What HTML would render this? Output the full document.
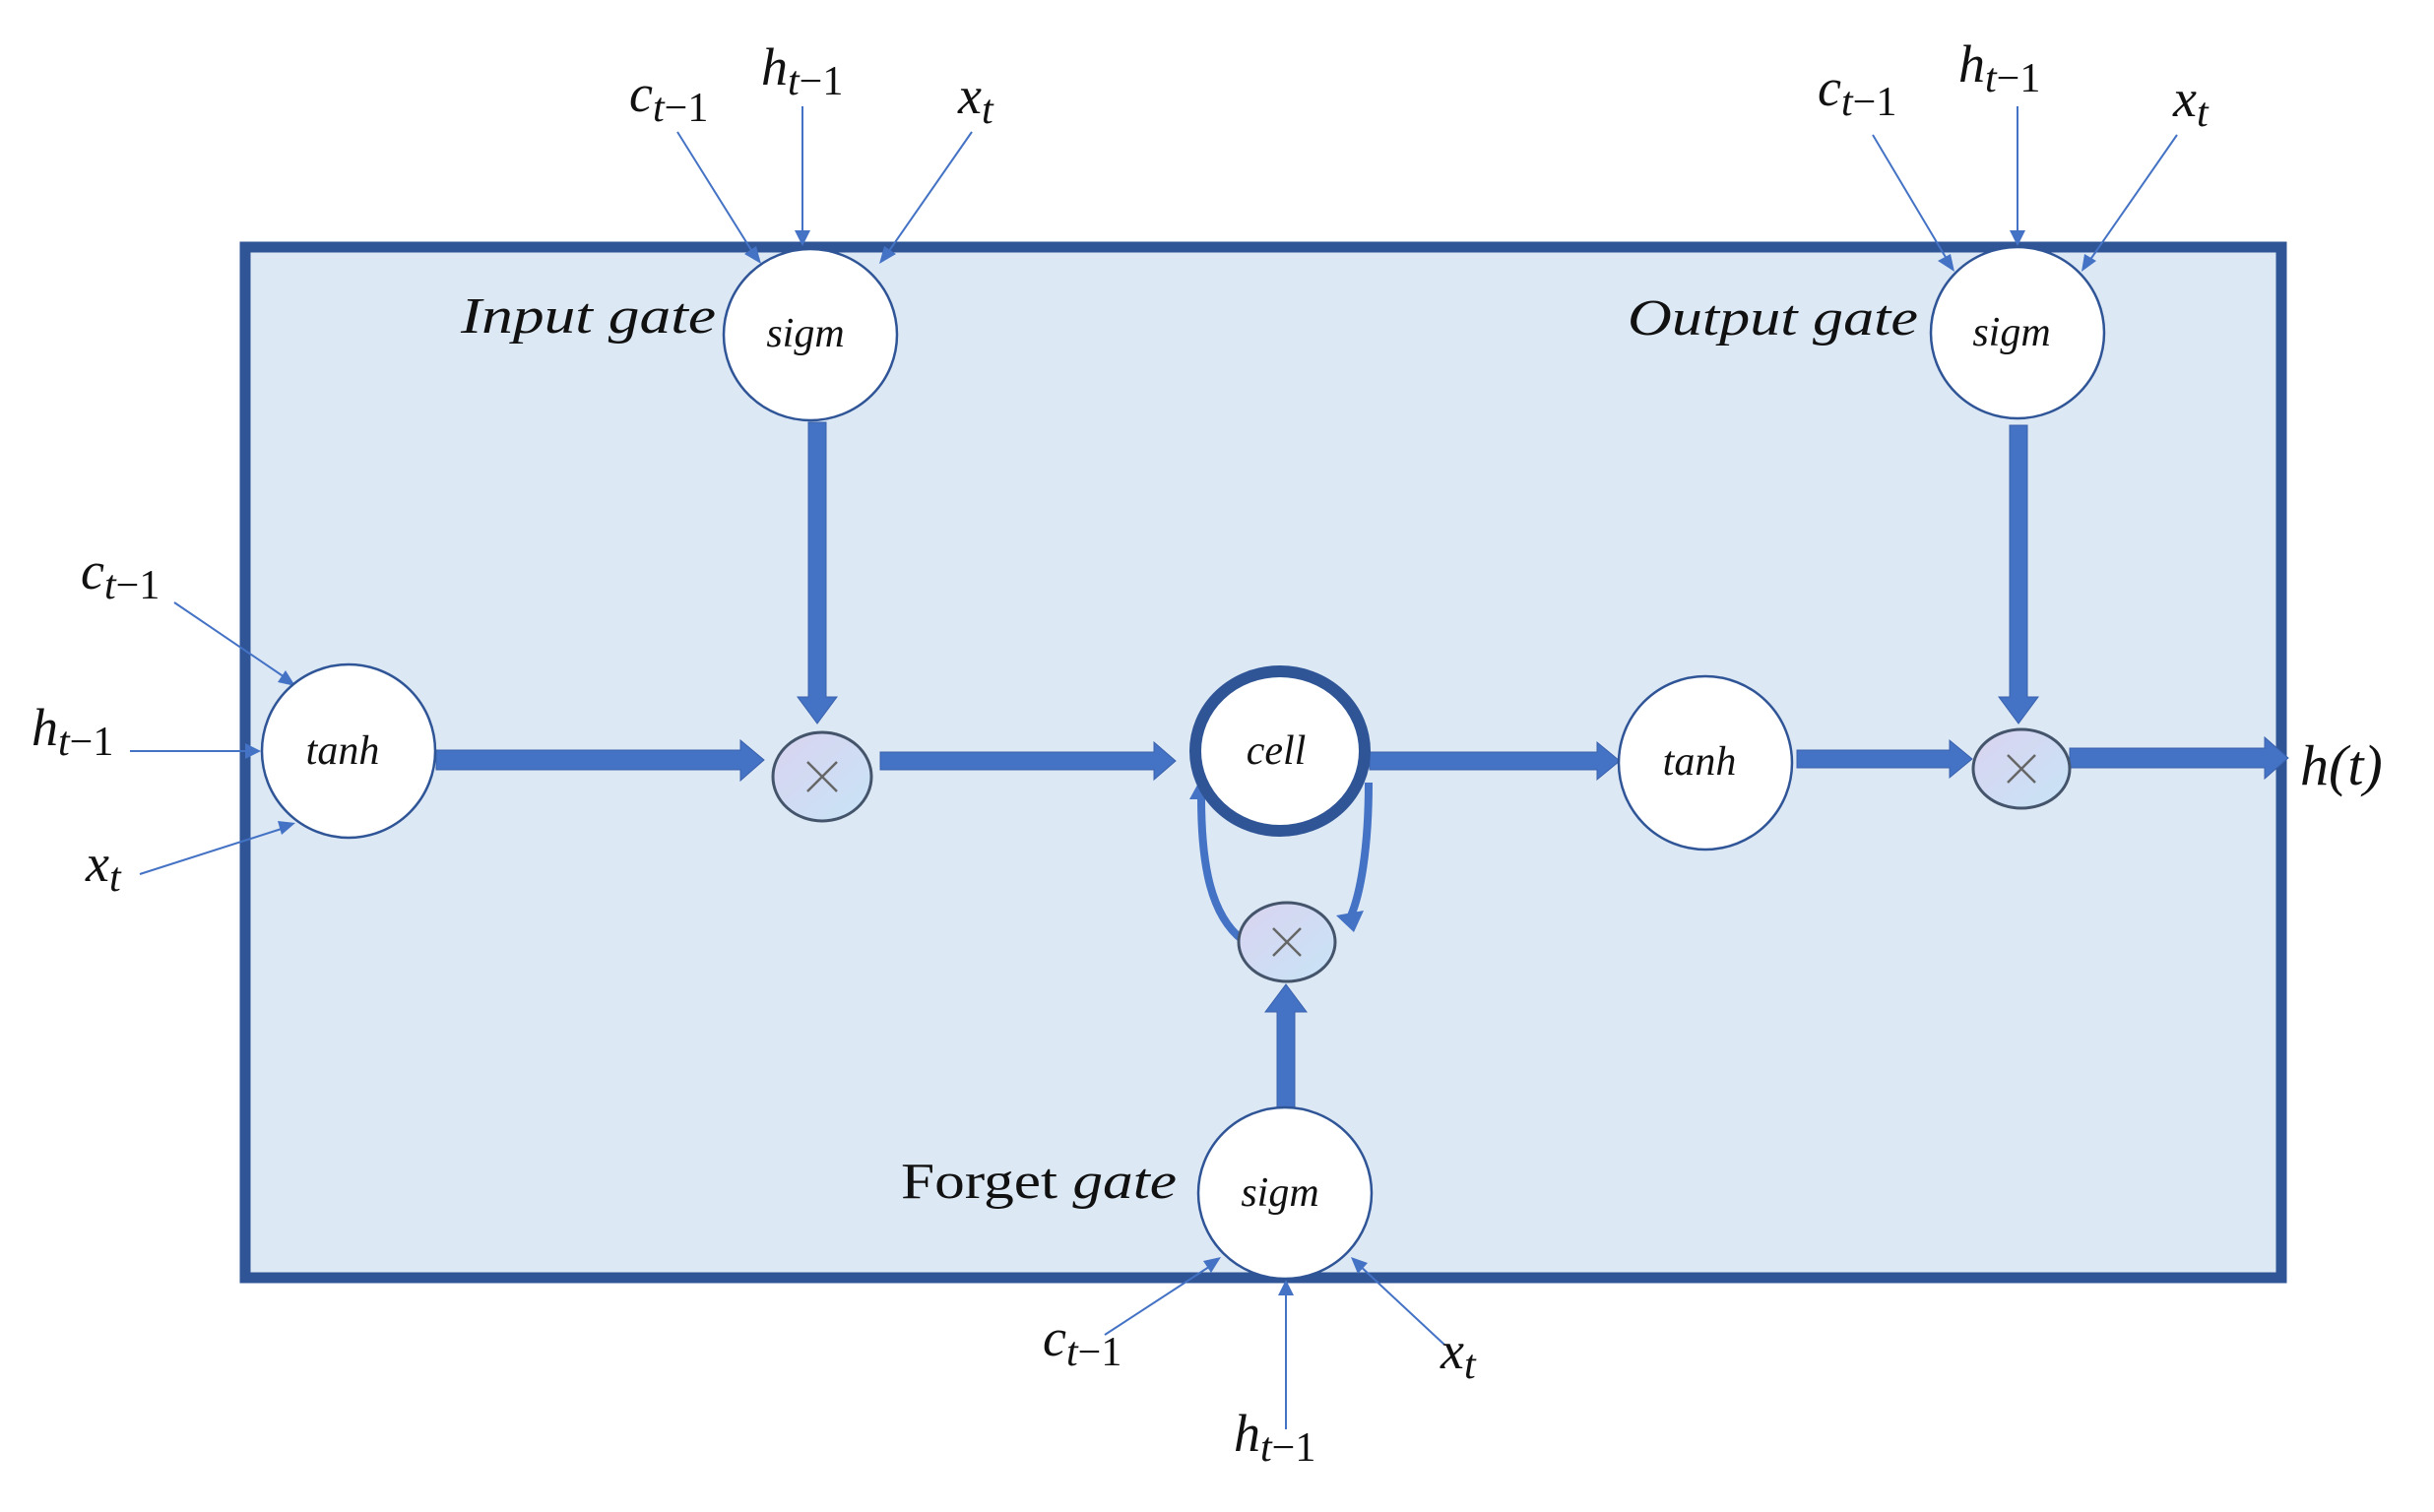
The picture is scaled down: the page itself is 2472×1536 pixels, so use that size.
<!DOCTYPE html>
<html><head><meta charset="utf-8"><style>
html,body{margin:0;padding:0;background:#fff;}
svg{display:block;}
text{font-family:"Liberation Serif",serif;fill:#111;}
.it{font-style:italic;}
</style></head><body>
<svg width="2472" height="1536" viewBox="0 0 2472 1536" xmlns="http://www.w3.org/2000/svg">
<defs>
<linearGradient id="mg" x1="0" y1="0" x2="1" y2="1">
<stop offset="0" stop-color="#d9d3f0"/><stop offset="1" stop-color="#c8e4f6"/>
</linearGradient>
</defs>
<rect x="249" y="251" width="2068" height="1047" fill="#dde8f5" stroke="#2f5597" stroke-width="11"/>

<g fill="#4472c4" stroke="#3a62ad" stroke-width="1">
<polygon points="443,762 752,762 752,752 776,772 752,793 752,782 443,782"/>
<polygon points="894,764 1172,764 1172,754 1194,773 1172,792 1172,782 894,782"/>
<polygon points="1391,764 1622,764 1622,754 1645,773 1622,792 1622,782 1391,782"/>
<polygon points="1825,762 1980,762 1980,752 2003,771 1980,790 1980,780 1825,780"/>
<polygon points="2102,760 2300,760 2300,749 2324,770 2300,791 2300,780 2102,780"/>
<polygon points="821,429 839,429 839,708 850,708 830,735 810,708 821,708"/>
<polygon points="2041,432 2059,432 2059,708 2070,708 2050,735 2030,708 2041,708"/>
<polygon points="1297,1126 1315,1126 1315,1028 1327,1028 1306,1000 1285,1028 1297,1028"/>
</g>
<path d="M1262,955 C1230,930 1220,880 1220,810" fill="none" stroke="#4472c4" stroke-width="8"/>
<polygon points="1208,812 1220,790 1232,812" fill="#4472c4"/>
<path d="M1390,795 C1390,860 1382,910 1370,935" fill="none" stroke="#4472c4" stroke-width="8"/>
<polygon points="1357,930 1375,947 1385,925" fill="#4472c4"/>

<g stroke="#4472c4" stroke-width="2" fill="none">
<line x1="688" y1="134" x2="768" y2="262"/>
<line x1="815" y1="108" x2="815" y2="240"/>
<line x1="987" y1="134" x2="898" y2="262"/>
<line x1="1902" y1="137" x2="1980" y2="268"/>
<line x1="2049" y1="108" x2="2049" y2="240"/>
<line x1="2211" y1="137" x2="2120" y2="268"/>
<line x1="177" y1="612" x2="292" y2="690"/>
<line x1="132" y1="763" x2="255" y2="763"/>
<line x1="142" y1="888" x2="292" y2="840"/>
<line x1="1122" y1="1356" x2="1234" y2="1283"/>
<line x1="1306" y1="1452" x2="1306" y2="1310"/>
<line x1="1467" y1="1366" x2="1378" y2="1283"/>
</g>
<g fill="#4472c4">
<polygon points="773,268 756,258 768,250"/>
<polygon points="815,250 807,234 823,234"/>
<polygon points="893,268 898,250 910,258"/>
<polygon points="1985,276 1968,265 1981,258"/>
<polygon points="2049,250 2041,234 2057,234"/>
<polygon points="2114,276 2117,258 2129,265"/>
<polygon points="300,697 282,693 290,681"/>
<polygon points="265,763 249,755 249,771"/>
<polygon points="300,836 286,848 282,834"/>
<polygon points="1240,1277 1230,1293 1222,1281"/>
<polygon points="1306,1300 1298,1316 1314,1316"/>
<polygon points="1372,1277 1389,1283 1379,1294"/>
</g>

<g stroke="#2f5597" stroke-width="2.5" fill="#fff">
<ellipse cx="823" cy="340" rx="88" ry="87"/>
<ellipse cx="2049" cy="338" rx="88" ry="87"/>
<ellipse cx="354" cy="763" rx="88" ry="88"/>
<ellipse cx="1732" cy="775" rx="88" ry="88"/>
<ellipse cx="1305" cy="1212" rx="88" ry="87"/>
</g>
<ellipse cx="1300" cy="763" rx="86" ry="81" fill="#fff" stroke="#2f5597" stroke-width="12"/>
<g stroke="#44546a" stroke-width="3" fill="url(#mg)">
<ellipse cx="835" cy="789" rx="50" ry="45"/>
<ellipse cx="2053" cy="781" rx="49" ry="40"/>
<ellipse cx="1307" cy="957" rx="49" ry="40"/>
</g>
<g stroke="#666" stroke-width="2.5">
<line x1="820" y1="774" x2="850" y2="804"/><line x1="850" y1="774" x2="820" y2="804"/>
<line x1="2039" y1="767" x2="2067" y2="795"/><line x1="2067" y1="767" x2="2039" y2="795"/>
<line x1="1293" y1="943" x2="1321" y2="971"/><line x1="1321" y1="943" x2="1293" y2="971"/>
</g>

<g class="it" font-size="42" text-anchor="middle">
<text x="818" y="352">sigm</text>
<text x="2043" y="351">sigm</text>
<text x="1300" y="1225">sigm</text>
<text x="348" y="776">tanh</text>
<text x="1726" y="787">tanh</text>
<text x="1296" y="776">cell</text>
</g>

<text class="it" x="468" y="338" font-size="52" textLength="259" lengthAdjust="spacingAndGlyphs">Input gate</text>
<text class="it" x="1653" y="340" font-size="52" textLength="295" lengthAdjust="spacingAndGlyphs">Output gate</text>
<text x="915" y="1217" font-size="52" textLength="280" lengthAdjust="spacingAndGlyphs">Forget <tspan class="it">gate</tspan></text>
<text class="it" x="2336" y="797" font-size="58">h(t)</text>

<g font-size="54">
<text x="639" y="113"><tspan class="it">c</tspan><tspan class="it" font-size="42" dy="10">t</tspan><tspan font-size="42">−1</tspan></text>
<text x="773" y="86"><tspan class="it">h</tspan><tspan class="it" font-size="42" dy="10">t</tspan><tspan font-size="42">−1</tspan></text>
<text x="973" y="115"><tspan class="it">x</tspan><tspan class="it" font-size="42" dy="10">t</tspan></text>

<text x="1846" y="107"><tspan class="it">c</tspan><tspan class="it" font-size="42" dy="10">t</tspan><tspan font-size="42">−1</tspan></text>
<text x="1989" y="83"><tspan class="it">h</tspan><tspan class="it" font-size="42" dy="10">t</tspan><tspan font-size="42">−1</tspan></text>
<text x="2207" y="118"><tspan class="it">x</tspan><tspan class="it" font-size="42" dy="10">t</tspan></text>

<text x="82" y="598"><tspan class="it">c</tspan><tspan class="it" font-size="42" dy="10">t</tspan><tspan font-size="42">−1</tspan></text>
<text x="32" y="757"><tspan class="it">h</tspan><tspan class="it" font-size="42" dy="10">t</tspan><tspan font-size="42">−1</tspan></text>
<text x="87" y="895"><tspan class="it">x</tspan><tspan class="it" font-size="42" dy="10">t</tspan></text>

<text x="1059" y="1377"><tspan class="it">c</tspan><tspan class="it" font-size="42" dy="10">t</tspan><tspan font-size="42">−1</tspan></text>
<text x="1253" y="1474"><tspan class="it">h</tspan><tspan class="it" font-size="42" dy="10">t</tspan><tspan font-size="42">−1</tspan></text>
<text x="1463" y="1390"><tspan class="it">x</tspan><tspan class="it" font-size="42" dy="10">t</tspan></text>
</g>
</svg>
</body></html>
